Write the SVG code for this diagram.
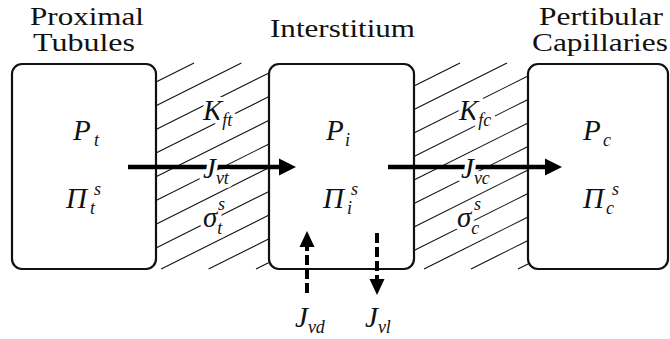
<svg xmlns="http://www.w3.org/2000/svg" width="670" height="339" viewBox="0 0 670 339">
<rect width="670" height="339" fill="#fff"/>

<g id="membrane-tubule" stroke="#111" stroke-width="1.1">
<line x1="156" y1="82" x2="194" y2="63"/>
<line x1="156" y1="105.7" x2="241.4" y2="63"/>
<line x1="156" y1="129.4" x2="269" y2="72.9"/>
<line x1="156" y1="153.1" x2="269" y2="96.6"/>
<line x1="156" y1="176.8" x2="269" y2="120.3"/>
<line x1="156" y1="200.5" x2="269" y2="144"/>
<line x1="156" y1="224.2" x2="269" y2="167.7"/>
<line x1="156" y1="247.9" x2="269" y2="191.4"/>
<line x1="161.2" y1="269" x2="269" y2="215.1"/>
<line x1="208.6" y1="269" x2="269" y2="238.8"/>
<line x1="256" y1="269" x2="269" y2="262.5"/>
</g>
<g id="membrane-capillary" stroke="#111" stroke-width="1.1">
<line x1="414" y1="86" x2="460" y2="63"/>
<line x1="414" y1="109.5" x2="507" y2="63"/>
<line x1="414" y1="133" x2="528" y2="76"/>
<line x1="414" y1="156.5" x2="528" y2="99.5"/>
<line x1="414" y1="180" x2="528" y2="123"/>
<line x1="414" y1="203.5" x2="528" y2="146.5"/>
<line x1="414" y1="227" x2="528" y2="170"/>
<line x1="414" y1="250.5" x2="528" y2="193.5"/>
<line x1="424" y1="269" x2="528" y2="217"/>
<line x1="471" y1="269" x2="528" y2="240.5"/>
<line x1="518" y1="269" x2="528" y2="264"/>
</g>

<g id="proximal-tubules">
<text font-family="Liberation Serif" style="font-family:'Liberation Serif',serif" font-size="26" fill="#111" x="30" y="25" textLength="114" lengthAdjust="spacingAndGlyphs">Proximal</text>
<text font-family="Liberation Serif" style="font-family:'Liberation Serif',serif" font-size="26" fill="#111" x="33" y="51" textLength="102" lengthAdjust="spacingAndGlyphs">Tubules</text>
<rect x="12" y="64" width="144" height="205" rx="10" fill="#fff" stroke="#111" stroke-width="2.2"/>
<text font-family="Liberation Serif" style="font-family:'Liberation Serif',serif" font-style="italic" font-size="29" fill="#111" x="73" y="140">P</text>
<text font-family="Liberation Serif" style="font-family:'Liberation Serif',serif" font-style="italic" font-size="18" fill="#111" x="94" y="146">t</text>
<text font-family="Liberation Serif" style="font-family:'Liberation Serif',serif" font-style="italic" font-size="29" fill="#111" x="66" y="208">Π</text>
<text font-family="Liberation Serif" style="font-family:'Liberation Serif',serif" font-style="italic" font-size="18" fill="#111" x="94" y="195">s</text>
<text font-family="Liberation Serif" style="font-family:'Liberation Serif',serif" font-style="italic" font-size="18" fill="#111" x="90" y="214">t</text>
</g>

<g id="interstitium">
<text font-family="Liberation Serif" style="font-family:'Liberation Serif',serif" font-size="26" fill="#111" x="270" y="37" textLength="145" lengthAdjust="spacingAndGlyphs">Interstitium</text>
<rect x="269" y="64" width="145" height="205" rx="10" fill="#fff" stroke="#111" stroke-width="2.2"/>
<text font-family="Liberation Serif" style="font-family:'Liberation Serif',serif" font-style="italic" font-size="29" fill="#111" x="326" y="140">P</text>
<text font-family="Liberation Serif" style="font-family:'Liberation Serif',serif" font-style="italic" font-size="18" fill="#111" x="345" y="146">i</text>
<text font-family="Liberation Serif" style="font-family:'Liberation Serif',serif" font-style="italic" font-size="29" fill="#111" x="323" y="208">Π</text>
<text font-family="Liberation Serif" style="font-family:'Liberation Serif',serif" font-style="italic" font-size="18" fill="#111" x="351" y="195">s</text>
<text font-family="Liberation Serif" style="font-family:'Liberation Serif',serif" font-style="italic" font-size="18" fill="#111" x="347" y="214">i</text>
</g>

<g id="peritubular-capillaries">
<text font-family="Liberation Serif" style="font-family:'Liberation Serif',serif" font-size="26" fill="#111" x="539" y="25" textLength="124" lengthAdjust="spacingAndGlyphs">Pertibular</text>
<text font-family="Liberation Serif" style="font-family:'Liberation Serif',serif" font-size="26" fill="#111" x="532" y="51" textLength="136" lengthAdjust="spacingAndGlyphs">Capillaries</text>
<rect x="528" y="64" width="140" height="205" rx="10" fill="#fff" stroke="#111" stroke-width="2.2"/>
<text font-family="Liberation Serif" style="font-family:'Liberation Serif',serif" font-style="italic" font-size="29" fill="#111" x="583" y="140">P</text>
<text font-family="Liberation Serif" style="font-family:'Liberation Serif',serif" font-style="italic" font-size="18" fill="#111" x="603" y="146">c</text>
<text font-family="Liberation Serif" style="font-family:'Liberation Serif',serif" font-style="italic" font-size="29" fill="#111" x="583" y="208">Π</text>
<text font-family="Liberation Serif" style="font-family:'Liberation Serif',serif" font-style="italic" font-size="18" fill="#111" x="612" y="195">s</text>
<text font-family="Liberation Serif" style="font-family:'Liberation Serif',serif" font-style="italic" font-size="18" fill="#111" x="606" y="214">c</text>
</g>

<g id="connectors">
<line x1="128" y1="167" x2="282" y2="167" stroke="#000" stroke-width="4.5"/>
<polygon points="296,167 279,158.5 279,175.5" fill="#000"/>
<line x1="388" y1="167" x2="548" y2="167" stroke="#000" stroke-width="4.5"/>
<polygon points="562,167 545,158.5 545,175.5" fill="#000"/>
<line x1="307" y1="293" x2="307" y2="245" stroke="#000" stroke-width="4" stroke-dasharray="10 4"/>
<polygon points="307,231 299.5,247 314.5,247" fill="#000"/>
<line x1="377" y1="233" x2="377" y2="281" stroke="#000" stroke-width="4" stroke-dasharray="10 4"/>
<polygon points="377,295 369.5,279 384.5,279" fill="#000"/>
</g>

<g id="labels">
<text font-family="Liberation Serif" style="font-family:'Liberation Serif',serif" font-style="italic" fill="#111" stroke="#fff" stroke-width="8" stroke-linejoin="round" paint-order="stroke" x="203" y="120"><tspan font-size="29">K</tspan><tspan font-size="18" dy="6">ft</tspan></text>
<text font-family="Liberation Serif" style="font-family:'Liberation Serif',serif" font-style="italic" fill="#111" stroke="#fff" stroke-width="8" stroke-linejoin="round" paint-order="stroke" x="203" y="178"><tspan font-size="29">J</tspan><tspan font-size="18" dy="6">vt</tspan></text>
<text font-family="Liberation Serif" style="font-family:'Liberation Serif',serif" font-style="italic" fill="#111" stroke="#fff" stroke-width="8" stroke-linejoin="round" paint-order="stroke" x="203" y="227"><tspan font-size="29">σ</tspan><tspan font-size="18" dy="7">t</tspan></text>
<text font-family="Liberation Serif" style="font-family:'Liberation Serif',serif" font-style="italic" font-size="18" fill="#111" x="218" y="210">s</text>
<text font-family="Liberation Serif" style="font-family:'Liberation Serif',serif" font-style="italic" fill="#111" stroke="#fff" stroke-width="8" stroke-linejoin="round" paint-order="stroke" x="459" y="120"><tspan font-size="29">K</tspan><tspan font-size="18" dy="6">fc</tspan></text>
<text font-family="Liberation Serif" style="font-family:'Liberation Serif',serif" font-style="italic" fill="#111" stroke="#fff" stroke-width="8" stroke-linejoin="round" paint-order="stroke" x="461" y="178"><tspan font-size="29">J</tspan><tspan font-size="18" dy="6">vc</tspan></text>
<text font-family="Liberation Serif" style="font-family:'Liberation Serif',serif" font-style="italic" fill="#111" stroke="#fff" stroke-width="8" stroke-linejoin="round" paint-order="stroke" x="457" y="227"><tspan font-size="29">σ</tspan><tspan font-size="18" dy="7">c</tspan></text>
<text font-family="Liberation Serif" style="font-family:'Liberation Serif',serif" font-style="italic" font-size="18" fill="#111" x="474" y="210">s</text>
<text font-family="Liberation Serif" style="font-family:'Liberation Serif',serif" font-style="italic" fill="#111" x="295" y="327"><tspan font-size="29">J</tspan><tspan font-size="18" dy="6">vd</tspan></text>
<text font-family="Liberation Serif" style="font-family:'Liberation Serif',serif" font-style="italic" fill="#111" x="365" y="327"><tspan font-size="29">J</tspan><tspan font-size="18" dy="6">vl</tspan></text>
</g>
</svg>
